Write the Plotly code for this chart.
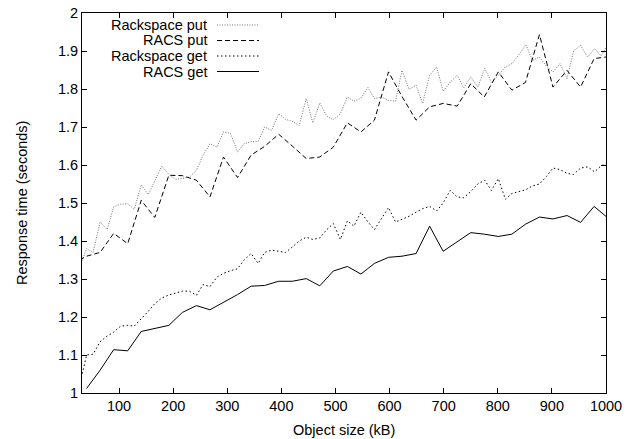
import plotly.graph_objects as go

# ---- data ----
rackspace_x = [27, 40, 52, 65, 78, 90, 103, 116, 128, 141,
               154, 166, 179, 192, 204, 217, 230, 243, 255, 268,
               281, 293, 306, 319, 331, 344, 357, 369, 382, 395,
               408, 420, 433, 446, 458, 471, 484, 496, 509, 522,
               534, 547, 560, 572, 585, 598, 611, 623, 636, 649,
               661, 674, 687, 699, 712, 725, 737, 750, 763, 776,
               788, 801, 814, 826, 839, 852, 864, 877, 890, 902,
               915, 928, 940, 953, 966, 979, 991, 1004]

rackspace_put = [1.33, 1.38, 1.37, 1.45, 1.43, 1.49, 1.497, 1.498, 1.483, 1.548,
                 1.522, 1.56, 1.597, 1.575, 1.562, 1.565, 1.568, 1.586, 1.625, 1.656,
                 1.647, 1.687, 1.683, 1.634, 1.656, 1.661, 1.662, 1.70, 1.691, 1.735,
                 1.72, 1.715, 1.704, 1.775, 1.711, 1.763, 1.728, 1.719, 1.735, 1.779,
                 1.768, 1.776, 1.804, 1.775, 1.779, 1.77, 1.768, 1.849, 1.799, 1.81,
                 1.762, 1.836, 1.858, 1.794, 1.818, 1.836, 1.803, 1.832, 1.805, 1.854,
                 1.818, 1.836, 1.858, 1.867, 1.89, 1.917, 1.875, 1.884, 1.86, 1.845,
                 1.867, 1.827, 1.90, 1.915, 1.884, 1.906, 1.887, 1.92]

rackspace_get = [1.02, 1.10, 1.102, 1.135, 1.15, 1.16, 1.176, 1.178, 1.176, 1.195,
                 1.215, 1.235, 1.25, 1.258, 1.263, 1.268, 1.268, 1.257, 1.285, 1.28,
                 1.305, 1.315, 1.322, 1.327, 1.35, 1.367, 1.341, 1.37, 1.376, 1.372,
                 1.37, 1.384, 1.40, 1.41, 1.404, 1.408, 1.43, 1.446, 1.404, 1.453,
                 1.439, 1.476, 1.45, 1.43, 1.46, 1.488, 1.45, 1.458, 1.465, 1.476,
                 1.485, 1.491, 1.479, 1.50, 1.533, 1.516, 1.514, 1.53, 1.55, 1.56,
                 1.533, 1.564, 1.51, 1.525, 1.53, 1.535, 1.545, 1.55, 1.57, 1.592,
                 1.588, 1.578, 1.575, 1.592, 1.595, 1.582, 1.598, 1.605]

racs_put_x = [14, 40, 65, 90, 116, 141, 166, 192, 217, 243,
              268, 293, 319, 344, 369, 395, 420, 446, 471, 496,
              522, 547, 572, 598, 623, 649, 674, 699, 725, 750,
              775, 801, 826, 851, 877, 902, 928, 953, 978, 1004]

racs_put = [1.34, 1.36, 1.37, 1.42, 1.393, 1.507, 1.462, 1.573, 1.572, 1.56,
            1.516, 1.621, 1.567, 1.626, 1.649, 1.681, 1.65, 1.617, 1.621, 1.647,
            1.711, 1.687, 1.718, 1.845, 1.78, 1.718, 1.753, 1.762, 1.755, 1.814,
            1.779, 1.845, 1.797, 1.817, 1.943, 1.805, 1.849, 1.805, 1.88, 1.885]

racs_get_x = [40, 65, 90, 116, 141, 166, 192, 217, 243,
              268, 293, 319, 344, 369, 395, 420, 446, 471, 496,
              522, 547, 572, 598, 623, 649, 674, 699, 725, 750,
              775, 801, 826, 851, 877, 902, 928, 953, 978, 1004]

racs_get = [1.012, 1.06, 1.114, 1.111, 1.162, 1.169, 1.178, 1.212, 1.23, 1.219,
            1.238, 1.259, 1.281, 1.283, 1.294, 1.294, 1.301, 1.282, 1.321, 1.333,
            1.313, 1.341, 1.357, 1.36, 1.367, 1.439, 1.373, 1.397, 1.422, 1.418,
            1.412, 1.418, 1.444, 1.463, 1.458, 1.467, 1.449, 1.491, 1.46]

series_names = ["Rackspace put", "RACS put", "Rackspace get", "RACS get"]
x_ticks = [100, 200, 300, 400, 500, 600, 700, 800, 900, 1000]
y_ticks = [1, 1.1, 1.2, 1.3, 1.4, 1.5, 1.6, 1.7, 1.8, 1.9, 2]
y_tick_text = ["1", "1.1", "1.2", "1.3", "1.4", "1.5", "1.6", "1.7", "1.8", "1.9", "2"]

# ---- styles ----
styles = [
    dict(color="#737373", width=1, dash="1px,1.5px"),
    dict(color="black", width=1, dash="5px,3px"),
    dict(color="black", width=1, dash="1.5px,2.5px"),
    dict(color="black", width=1, dash="solid"),
]
FONT = "Liberation Sans, Arial, Helvetica, sans-serif"
FS = 14.5

fig = go.Figure()
data = [(rackspace_x, rackspace_put), (racs_put_x, racs_put),
        (rackspace_x, rackspace_get), (racs_get_x, racs_get)]
for (xs, ys), name, st in zip(data, series_names, styles):
    fig.add_trace(go.Scatter(x=xs, y=ys, mode="lines", name=name,
                             line=st, showlegend=False))

# ---- manual gnuplot-style legend (text left, sample right) ----
L, R, T, B = 82, 29, 13, 46
W, H = 635, 439
pw, ph = W - L - R, H - T - B
def px2paper_x(px):
    return (px - L) / pw
def px2paper_y(py):
    return (H - B - py) / ph

rows = [25, 40.5, 56, 71.5]
shapes = []
annotations = []
for name, st, ry in zip(series_names, styles, rows):
    yy = px2paper_y(ry)
    shapes.append(dict(type="line", xref="paper", yref="paper",
                       x0=px2paper_x(217), x1=px2paper_x(259), y0=yy, y1=yy,
                       line=st))
    annotations.append(dict(text=name, xref="paper", yref="paper",
                            x=px2paper_x(209), y=yy, xanchor="right", yanchor="middle",
                            showarrow=False, font=dict(family=FONT, size=FS, color="black")))

annotations.append(dict(text="Object size (kB)", xref="paper", yref="paper",
                        x=0.5, y=px2paper_y(430), xanchor="center", yanchor="middle",
                        showarrow=False, font=dict(family=FONT, size=FS, color="black")))
annotations.append(dict(text="Response time (seconds)", xref="paper", yref="paper",
                        x=px2paper_x(22), y=0.5, xanchor="center", yanchor="middle",
                        textangle=-90, showarrow=False,
                        font=dict(family=FONT, size=FS, color="black")))

axis_common = dict(showgrid=False, zeroline=False, showline=True, linecolor="black",
                   linewidth=1, mirror="ticks", ticks="inside", ticklen=5,
                   tickcolor="black", tickwidth=1, automargin=False,
                   tickfont=dict(family=FONT, size=FS, color="black"))

fig.update_layout(
    width=W, height=H,
    margin=dict(l=L, r=R, t=T, b=B, pad=0, autoexpand=False),
    plot_bgcolor="white", paper_bgcolor="white",
    xaxis=dict(range=[31.5, 1000], tickmode="array", tickvals=x_ticks,
               ticktext=[str(v) for v in x_ticks], **axis_common),
    yaxis=dict(range=[1, 2], tickmode="array", tickvals=y_ticks,
               ticktext=y_tick_text, **axis_common),
    shapes=shapes, annotations=annotations, showlegend=False,
    hovermode=False,
)

fig.write_html("out.html", config={"displayModeBar": False, "staticPlot": True},
               post_script="document.body.style.margin='0';document.body.style.overflow='hidden';")
